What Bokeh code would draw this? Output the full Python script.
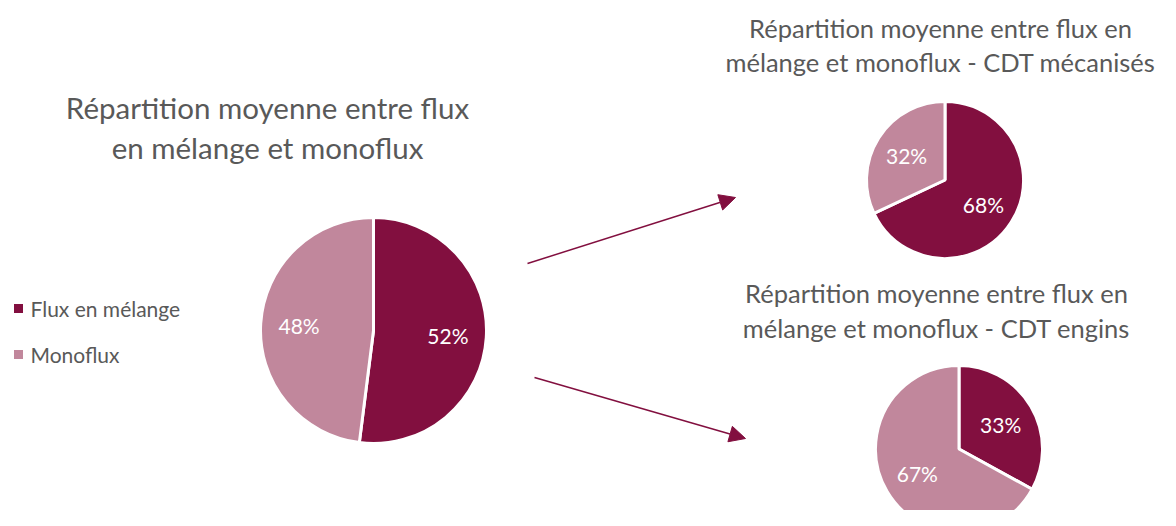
import math
from bokeh.plotting import figure
from bokeh.models import Range1d, Arrow, NormalHead, ColumnDataSource
from bokeh.core.properties import value
from bokeh.embed import file_html
from bokeh.resources import INLINE

# ---- data ----
categories = ["Flux en mélange", "Monoflux"]
colors = ["#820F3F", "#C1879C"]
main_values = [0.52, 0.48]
meca_values = [0.68, 0.32]
engins_values = [0.33, 0.67]
main_title = ["Répartition moyenne entre flux", "en mélange et monoflux"]
meca_title = ["Répartition moyenne entre flux en", "mélange et monoflux - CDT mécanisés"]
engins_title = ["Répartition moyenne entre flux en", "mélange et monoflux - CDT engins"]

W, H = 1160, 510
TOP = 526  # screen coordinate conversion (y_data = TOP - y_screen)
FONT = "Lato"
GREY = "#595959"

p = figure(width=W, height=H, output_backend="svg", toolbar_location=None,
           x_range=Range1d(0, W), y_range=Range1d(TOP - H, TOP),
           min_border=0, outline_line_color=None)
p.axis.visible = False
p.grid.visible = False
p.background_fill_color = "white"
p.border_fill_color = "white"


def pie(cx, cy, r, vals, label_frac, label_size):
    starts, ends, mids = [], [], []
    cum = 0.0
    for v in vals:
        s = math.pi / 2 - 2 * math.pi * cum
        e = math.pi / 2 - 2 * math.pi * (cum + v)
        starts.append(s)
        ends.append(e)
        mids.append((s + e) / 2)
        cum += v
    src = ColumnDataSource(dict(x=[cx] * len(vals), y=[cy] * len(vals),
                                start=starts, end=ends, color=colors[:len(vals)]))
    p.wedge(x="x", y="y", radius=r, start_angle="start", end_angle="end",
            direction="clock", fill_color="color", line_color="white",
            line_width=3, source=src)
    lx = [cx + label_frac * r * math.cos(m) for m in mids]
    ly = [cy + label_frac * r * math.sin(m) for m in mids]
    labels = [f"{round(v * 100)}%" for v in vals]
    p.text(x=lx, y=ly, text=labels, text_color="white", text_align="center",
           text_baseline="middle", text_font=value(FONT),
           text_font_size=f"{label_size}px")


def title(cx, y_first, lines, size, gap):
    p.text(x=[cx] * len(lines), y=[TOP - (y_first + i * gap) for i in range(len(lines))],
           text=lines, text_color=GREY, text_align="center", text_baseline="middle",
           text_font=value(FONT), text_font_size=f"{size}px")


# main pie
pie(373, TOP - 330, 113, main_values, 0.66, 21)
# top-right pie
pie(944.5, TOP - 179.5, 78.5, meca_values, 0.58, 21)
# bottom-right pie
pie(958.5, TOP - 448.5, 83.5, engins_values, 0.58, 21)

# titles
title(267, 107, main_title, 29.5, 40)
title(940, 27, meca_title, 25.5, 34)
title(936, 292, engins_title, 25.5, 35)

# legend
ly = [TOP - 308, TOP - 354]
p.scatter(x=[18, 18], y=ly, marker="square", size=9, fill_color=colors,
          line_color=None)
p.text(x=[30, 30], y=ly, text=categories, text_color=GREY, text_align="left",
       text_baseline="middle", text_font=value(FONT), text_font_size="21px")

# arrows
for (x0, y0, x1, y1) in [(527, 263, 735, 197), (534, 377, 745, 438)]:
    p.add_layout(Arrow(end=NormalHead(size=16, fill_color=colors[0], line_color=colors[0]),
                       x_start=x0, y_start=TOP - y0, x_end=x1, y_end=TOP - y1,
                       line_color=colors[0], line_width=1.5))

open("out.html", "w").write(file_html(p, INLINE))
